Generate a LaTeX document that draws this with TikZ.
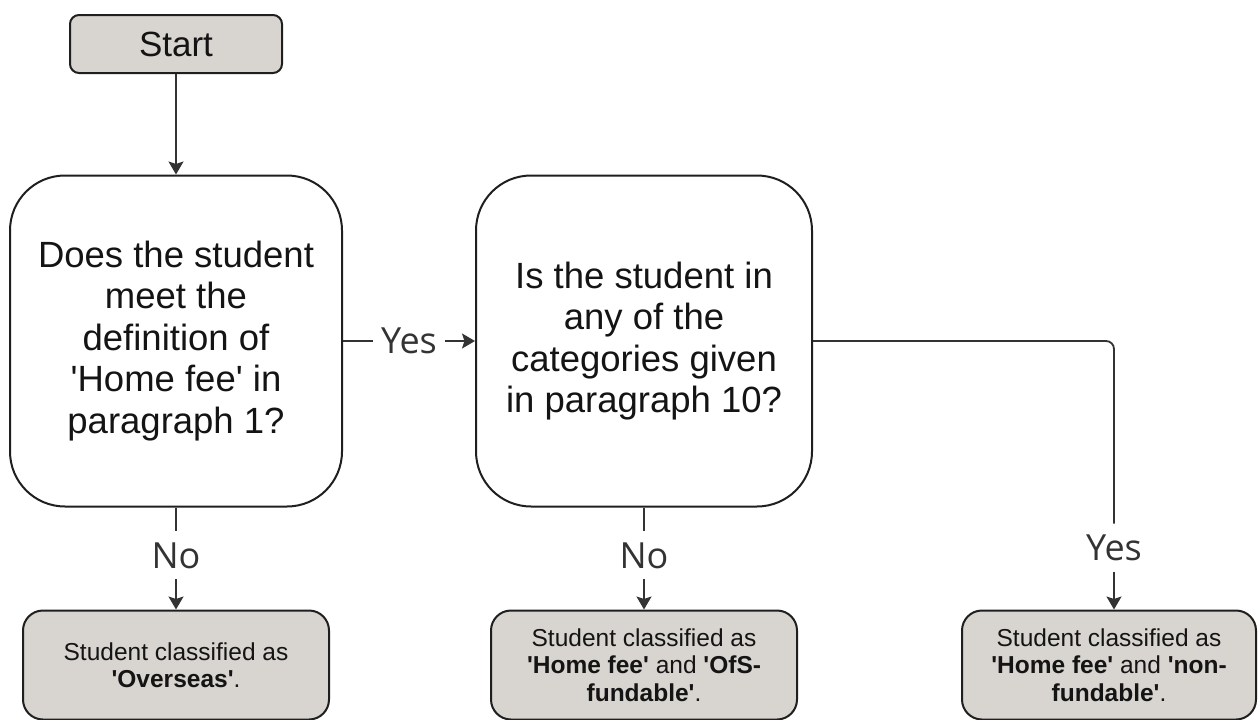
\documentclass[tikz,border=0pt]{standalone}
\usepackage{fontspec}
\setmainfont{Liberation Sans}
\newfontfamily\lblfont{Open Sans}
\usetikzlibrary{arrows.meta,calc}
\definecolor{boxfill}{HTML}{D8D4CF}
\definecolor{linecol}{HTML}{333333}
\newcommand\myq{\textquotesingle}
\begin{document}
\begin{tikzpicture}[x=1pt,y=-1pt,
 box/.style={draw=black!88, line width=2pt, rectangle, align=center, inner sep=0pt, text=black!92},
 startbox/.style={box, fill=boxfill, rounded corners=9pt, minimum width=212pt, minimum height=58pt, font=\fontsize{35}{40}\selectfont},
 qbox/.style={box, fill=white, rounded corners=55pt, minimum height=331pt, font=\fontsize{36.5}{41.5}\selectfont},
 rbox/.style={box, fill=boxfill, rounded corners=20pt, minimum height=109pt, font=\fontsize{24.5}{27.5}\selectfont},
 conn/.style={draw=linecol, line width=1.8pt},
 arr/.style={conn, -{Stealth[length=13pt,width=15pt,inset=2.5pt]}},
 lbl/.style={fill=white, text=linecol, font=\lblfont\fontsize{36}{40}\selectfont, inner xsep=8pt, inner ysep=11pt}
]
\useasboundingbox (0,0) rectangle (1258,720);

\node[startbox] (start) at (176,44) {Start};
\node[qbox, minimum width=332pt] (q1) at (176,341) {Does the student\\meet the\\definition of\\\myq Home fee\myq{} in\\paragraph 1?};
\node[qbox, minimum width=336pt] (q2) at (644,341) {Is the student in\\any of the\\categories given\\in paragraph 10?};
\node[rbox, minimum width=306pt] (r1) at (176,665) {Student classified as\\\textbf{\myq Overseas\myq}.};
\node[rbox, minimum width=306pt] (r2) at (644,665) {Student classified as\\\textbf{\myq Home fee\myq} and \textbf{\myq OfS-}\\\textbf{fundable\myq}.};
\node[rbox, minimum width=294pt] (r3) at (1109,665) {Student classified as\\\textbf{\myq Home fee\myq} and \textbf{\myq non-}\\\textbf{fundable\myq}.};
\coordinate (c3) at (1114,341);

\draw[arr] (start.south) -- (q1.north);
\draw[arr] (q1.east) -- node[lbl] {Yes} (q2.west);
\draw[arr] (q1.south) -- node[lbl, pos=0.47] {No} (r1.north);
\draw[arr] (q2.south) -- node[lbl, pos=0.47] {No} (r2.north);
\draw[arr, rounded corners=8pt] (q2.east) -- (c3) -- node[lbl, pos=0.77] {Yes} (r3.north -| c3);
\end{tikzpicture}
\end{document}
